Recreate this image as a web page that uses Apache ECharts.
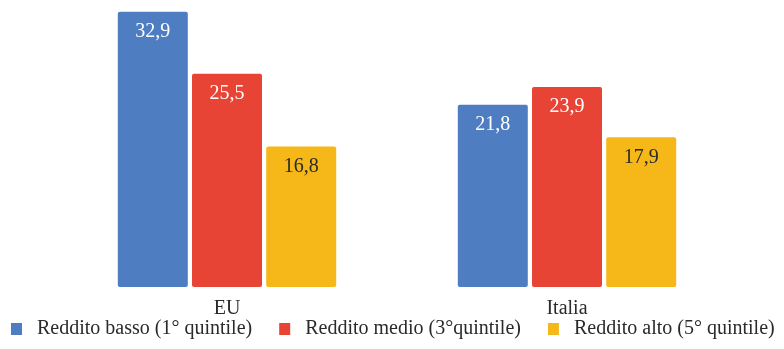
<!DOCTYPE html>
<html>
<head>
<meta charset="utf-8">
<script src="https://cdn.jsdelivr.net/npm/echarts@6/dist/echarts.min.js"></script>
<style>
  html, body { margin: 0; padding: 0; background: #ffffff; }
  #chart { width: 784px; height: 349px; }
</style>
</head>
<body>
<div id="chart"></div>
<script>
// Areas and income-quintile series
const categories = ['EU', 'Italia'];
const seriesNames = ['Reddito basso (1° quintile)', 'Reddito medio (3°quintile)', 'Reddito alto (5° quintile)'];
const redditoBasso = [32.9, 21.8];
const redditoMedio = [25.5, 23.9];
const redditoAlto = [16.8, 17.9];

const colors = ['#4F7DC2', '#E84436', '#F5B818'];
const labelColors = ['#ffffff', '#ffffff', '#2a2a2a'];
const serif = '"Times New Roman", "Liberation Serif", "DejaVu Serif", serif';

const chart = echarts.init(document.getElementById('chart'));

function makeSeries(name, data, i) {
  return {
    name: name,
    type: 'bar',
    data: data,
    barWidth: 70,
    barGap: '6%',
    itemStyle: { color: colors[i], borderRadius: 2 },
    label: {
      show: true,
      position: 'insideTop',
      distance: 10,
      color: labelColors[i],
      fontFamily: serif,
      fontSize: 20,
      formatter: p => p.value.toFixed(1).replace('.', ',')
    }
  };
}

chart.setOption({
  animation: false,
  color: colors,
  textStyle: { fontFamily: serif },
  grid: { left: 57, right: 47, top: 11, bottom: 62 },
  legend: {
    left: 6,
    top: 314,
    itemWidth: 11,
    itemHeight: 12,
    itemGap: 27,
    icon: 'rect',
    textStyle: {
      fontFamily: serif,
      fontSize: 20,
      color: '#2a2a2a',
      padding: [0, 0, 0, 10]
    },
    data: seriesNames
  },
  xAxis: {
    type: 'category',
    data: categories,
    axisLine: { show: false },
    axisTick: { show: false },
    axisLabel: {
      margin: 12,
      fontFamily: serif,
      fontSize: 20,
      color: '#2a2a2a'
    }
  },
  yAxis: {
    type: 'value',
    min: 0,
    max: 33,
    show: false,
    splitLine: { show: false }
  },
  series: [
    makeSeries(seriesNames[0], redditoBasso, 0),
    makeSeries(seriesNames[1], redditoMedio, 1),
    makeSeries(seriesNames[2], redditoAlto, 2)
  ]
});
</script>
</body>
</html>
